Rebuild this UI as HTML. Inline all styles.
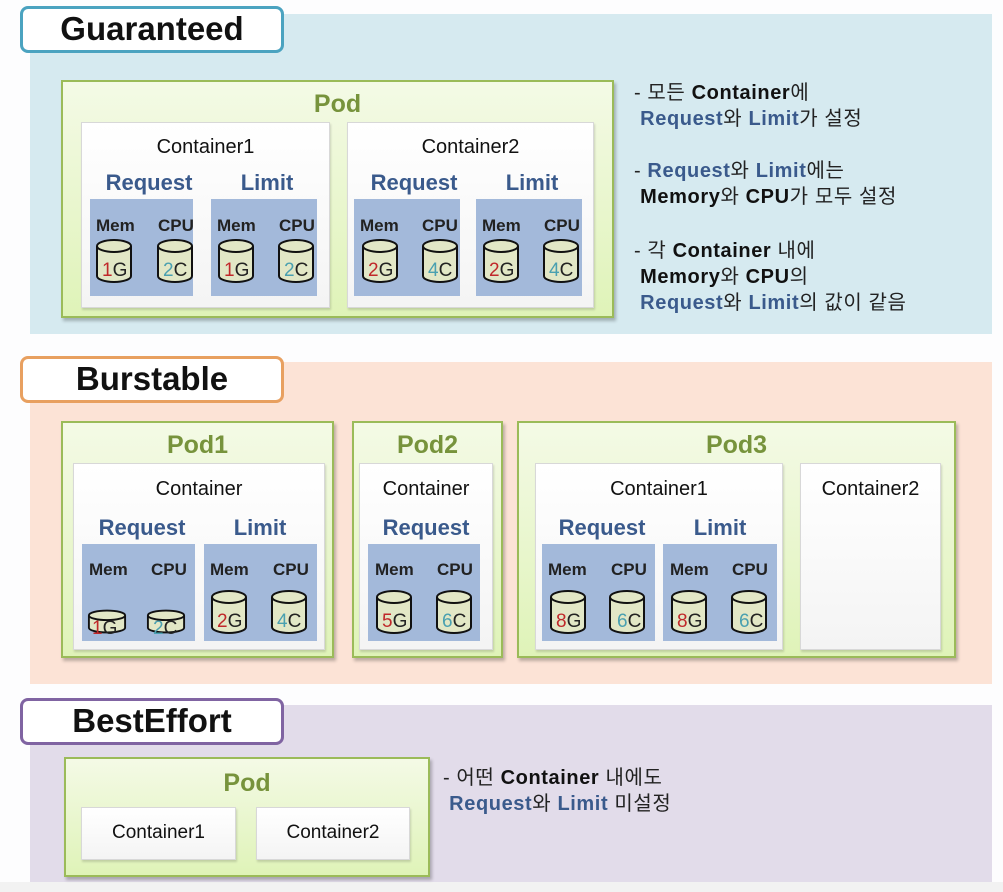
<!DOCTYPE html>
<html><head><meta charset="utf-8">
<style>
*{margin:0;padding:0;box-sizing:border-box}
body{width:1003px;height:892px;position:relative;overflow:hidden;background:#fdfdfe;font-family:"Liberation Sans","Noto Sans CJK KR",sans-serif}
.a{position:absolute}
.band{position:absolute;left:30px;width:962px}
.title{position:absolute;left:20px;width:264px;height:47px;background:#fff;border:3px solid;border-radius:8px;font-weight:bold;font-size:33px;text-align:center;line-height:40px;color:#111}
.pod{position:absolute;background:linear-gradient(#f4fae6,#dff3b8);border:2px solid #9bbb59;box-shadow:2px 3px 3px rgba(0,0,0,.25)}
.podt{position:absolute;left:0;right:0;text-align:center;font-weight:bold;font-size:25px;color:#77933c}
.ct{position:absolute;background:linear-gradient(#fff,#f4f4f4);border:1px solid #d8d8d8;box-shadow:1px 2px 2px rgba(0,0,0,.15)}
.ctt{position:absolute;left:0;right:0;text-align:center;font-size:20px;color:#111}
.lbl{position:absolute;text-align:center;font-weight:bold;font-size:22px;color:#3a5a8c}
.pn{position:absolute;background:#a3b9da}
.cyl{position:absolute}
.tx{position:absolute;font-size:20px;line-height:26px;color:#222;letter-spacing:0.6px;white-space:nowrap}
.tx b{font-weight:bold;color:#111}
.tx i{font-style:normal;font-weight:bold;color:#3a5a8c}
</style></head><body>
<svg class="a" style="left:0;top:0" width="0" height="0">
<defs>
<symbol id="cy" viewBox="0 0 38 46"><path d="M2,8 V38 A17,6 0 0 0 36,38 V8" fill="#e2e7c6" stroke="#111" stroke-width="2"/><ellipse cx="19" cy="8" rx="17" ry="6" fill="#e2e7c6" stroke="#111" stroke-width="2"/></symbol>
<symbol id="cs" viewBox="0 0 42 26"><path d="M2,6 V19 A19,5 0 0 0 40,19 V6" fill="#e2e7c6" stroke="#111" stroke-width="2"/><ellipse cx="21" cy="6" rx="19" ry="5" fill="#e2e7c6" stroke="#111" stroke-width="2"/></symbol>
</defs></svg>

<div class="band" style="top:14px;height:320px;background:#d6eaf0"></div>
<div class="band" style="top:362px;height:322px;background:#fce3d6"></div>
<div class="band" style="top:705px;height:177px;background:#e2dcea"></div>
<div class="a" style="left:0;top:882px;width:1003px;height:10px;background:#f2f2f2"></div>

<div class="title" style="top:6px;border-color:#4ba3c0">Guaranteed</div>
<div class="title" style="top:356px;border-color:#e8a060">Burstable</div>
<div class="title" style="top:698px;border-color:#8064a2">BestEffort</div>

<!-- Guaranteed -->
<div class="pod" style="left:61px;top:80px;width:553px;height:238px"><div class="podt" style="top:8px">Pod</div></div>
<div class="ct" style="left:81px;top:122px;width:249px;height:186px"><div class="ctt" style="top:13px">Container1</div></div>
<div class="ct" style="left:347px;top:122px;width:247px;height:186px"><div class="ctt" style="top:13px">Container2</div></div>
<div class="lbl" style="left:90px;width:118px;top:170px">Request</div>
<div class="lbl" style="left:208px;width:118px;top:170px">Limit</div>
<div class="lbl" style="left:355px;width:118px;top:170px">Request</div>
<div class="lbl" style="left:473px;width:118px;top:170px">Limit</div>
<div class="pn" style="left:90px;top:199px;width:103px;height:97px"></div>
<div class="pn" style="left:211px;top:199px;width:106px;height:97px"></div>
<div class="pn" style="left:354px;top:199px;width:106px;height:97px"></div>
<div class="pn" style="left:476px;top:199px;width:106px;height:97px"></div>

<svg class="a" style="left:0;top:0" width="1003" height="892" font-family="Liberation Sans, sans-serif" font-size="17" font-weight="bold">
<g fill="#222">
<text x="96" y="231">Mem</text><text x="158" y="231">CPU</text>
<text x="217" y="231">Mem</text><text x="279" y="231">CPU</text>
<text x="360" y="231">Mem</text><text x="422" y="231">CPU</text>
<text x="482" y="231">Mem</text><text x="544" y="231">CPU</text>
</g>
<use href="#cy" x="95" y="238" width="38" height="46"/><use href="#cy" x="156" y="238" width="38" height="46"/>
<use href="#cy" x="217" y="238" width="38" height="46"/><use href="#cy" x="277" y="238" width="38" height="46"/>
<use href="#cy" x="361" y="238" width="38" height="46"/><use href="#cy" x="421" y="238" width="38" height="46"/>
<use href="#cy" x="482" y="238" width="38" height="46"/><use href="#cy" x="542" y="238" width="38" height="46"/>
<g font-size="19" font-weight="normal">
<text x="102" y="276"><tspan fill="#c0282a">1</tspan><tspan fill="#222">G</tspan></text>
<text x="163" y="276"><tspan fill="#4aa0b0">2</tspan><tspan fill="#222">C</tspan></text>
<text x="224" y="276"><tspan fill="#c0282a">1</tspan><tspan fill="#222">G</tspan></text>
<text x="284" y="276"><tspan fill="#4aa0b0">2</tspan><tspan fill="#222">C</tspan></text>
<text x="368" y="276"><tspan fill="#c0282a">2</tspan><tspan fill="#222">G</tspan></text>
<text x="428" y="276"><tspan fill="#4aa0b0">4</tspan><tspan fill="#222">C</tspan></text>
<text x="489" y="276"><tspan fill="#c0282a">2</tspan><tspan fill="#222">G</tspan></text>
<text x="549" y="276"><tspan fill="#4aa0b0">4</tspan><tspan fill="#222">C</tspan></text>
</g>
</svg>

<div class="tx" style="left:634px;top:80px">- 모든 <b>Container</b>에<br>&nbsp;<i>Request</i>와 <i>Limit</i>가 설정</div>
<div class="tx" style="left:634px;top:158px">- <i>Request</i>와 <i>Limit</i>에는<br>&nbsp;<b>Memory</b>와 <b>CPU</b>가 모두 설정</div>
<div class="tx" style="left:634px;top:238px">- 각 <b>Container</b> 내에<br>&nbsp;<b>Memory</b>와 <b>CPU</b>의<br>&nbsp;<i>Request</i>와 <i>Limit</i>의 값이 같음</div>

<!-- Burstable -->
<div class="pod" style="left:61px;top:421px;width:273px;height:237px"><div class="podt" style="top:8px">Pod1</div></div>
<div class="pod" style="left:352px;top:421px;width:151px;height:237px"><div class="podt" style="top:8px">Pod2</div></div>
<div class="pod" style="left:517px;top:421px;width:439px;height:237px"><div class="podt" style="top:8px">Pod3</div></div>
<div class="ct" style="left:73px;top:463px;width:252px;height:187px"><div class="ctt" style="top:14px">Container</div></div>
<div class="ct" style="left:359px;top:463px;width:134px;height:187px"><div class="ctt" style="top:14px">Container</div></div>
<div class="ct" style="left:535px;top:463px;width:248px;height:187px"><div class="ctt" style="top:14px">Container1</div></div>
<div class="ct" style="left:800px;top:463px;width:141px;height:187px"><div class="ctt" style="top:14px">Container2</div></div>
<div class="lbl" style="left:82px;width:120px;top:515px">Request</div>
<div class="lbl" style="left:200px;width:120px;top:515px">Limit</div>
<div class="lbl" style="left:366px;width:120px;top:515px">Request</div>
<div class="lbl" style="left:542px;width:120px;top:515px">Request</div>
<div class="lbl" style="left:660px;width:120px;top:515px">Limit</div>
<div class="pn" style="left:82px;top:544px;width:113px;height:97px"></div>
<div class="pn" style="left:204px;top:544px;width:113px;height:97px"></div>
<div class="pn" style="left:368px;top:544px;width:112px;height:97px"></div>
<div class="pn" style="left:542px;top:544px;width:113px;height:97px"></div>
<div class="pn" style="left:663px;top:544px;width:114px;height:97px"></div>

<svg class="a" style="left:0;top:0" width="1003" height="892" font-family="Liberation Sans, sans-serif" font-size="17" font-weight="bold">
<g fill="#222">
<text x="89" y="575">Mem</text><text x="151" y="575">CPU</text>
<text x="210" y="575">Mem</text><text x="273" y="575">CPU</text>
<text x="375" y="575">Mem</text><text x="437" y="575">CPU</text>
<text x="548" y="575">Mem</text><text x="611" y="575">CPU</text>
<text x="670" y="575">Mem</text><text x="732" y="575">CPU</text>
</g>
<use href="#cs" x="87" y="609" width="40" height="26"/><use href="#cs" x="146" y="609" width="40" height="26"/>
<use href="#cy" x="210" y="589" width="38" height="46"/><use href="#cy" x="270" y="589" width="38" height="46"/>
<use href="#cy" x="375" y="589" width="38" height="46"/><use href="#cy" x="435" y="589" width="38" height="46"/>
<use href="#cy" x="549" y="589" width="38" height="46"/><use href="#cy" x="608" y="589" width="38" height="46"/>
<use href="#cy" x="670" y="589" width="38" height="46"/><use href="#cy" x="730" y="589" width="38" height="46"/>
<g font-size="19" font-weight="normal">
<text x="92" y="634"><tspan fill="#c0282a">1</tspan><tspan fill="#222">G</tspan></text>
<text x="153" y="634"><tspan fill="#4aa0b0">2</tspan><tspan fill="#222">C</tspan></text>
<text x="217" y="627"><tspan fill="#c0282a">2</tspan><tspan fill="#222">G</tspan></text>
<text x="277" y="627"><tspan fill="#4aa0b0">4</tspan><tspan fill="#222">C</tspan></text>
<text x="382" y="627"><tspan fill="#c0282a">5</tspan><tspan fill="#222">G</tspan></text>
<text x="442" y="627"><tspan fill="#4aa0b0">6</tspan><tspan fill="#222">C</tspan></text>
<text x="556" y="627"><tspan fill="#c0282a">8</tspan><tspan fill="#222">G</tspan></text>
<text x="617" y="627"><tspan fill="#4aa0b0">6</tspan><tspan fill="#222">C</tspan></text>
<text x="677" y="627"><tspan fill="#c0282a">8</tspan><tspan fill="#222">G</tspan></text>
<text x="739" y="627"><tspan fill="#4aa0b0">6</tspan><tspan fill="#222">C</tspan></text>
</g>
</svg>

<!-- BestEffort -->
<div class="pod" style="left:64px;top:757px;width:366px;height:120px"><div class="podt" style="top:10px">Pod</div></div>
<div class="ct" style="left:81px;top:807px;width:155px;height:53px"><div class="ctt" style="top:14px;font-size:19px">Container1</div></div>
<div class="ct" style="left:256px;top:807px;width:154px;height:53px"><div class="ctt" style="top:14px;font-size:19px">Container2</div></div>
<div class="tx" style="left:443px;top:765px">- 어떤 <b>Container</b> 내에도<br>&nbsp;<i>Request</i>와 <i>Limit</i> 미설정</div>
</body></html>
